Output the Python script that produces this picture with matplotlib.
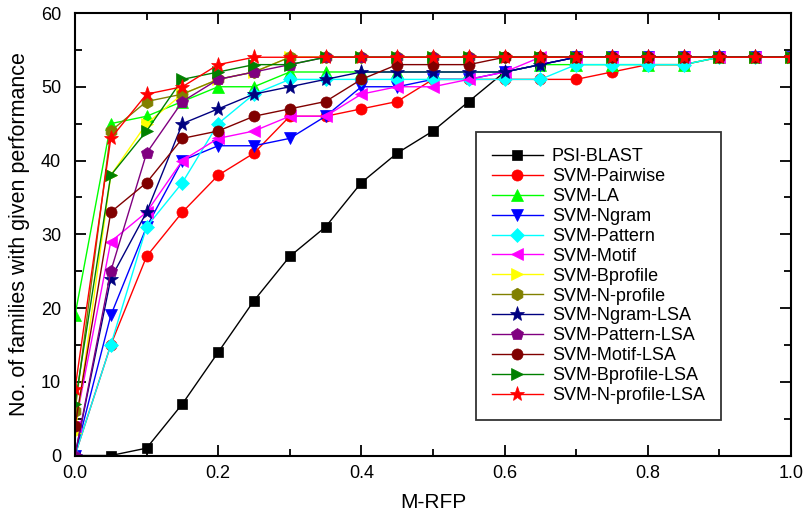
import numpy as np
import matplotlib.pyplot as plt
from matplotlib.ticker import MultipleLocator

plt.rcParams['font.family'] = ['Liberation Sans', 'DejaVu Sans']

# M-RFP thresholds
m_rfp = [0.0, 0.05, 0.1, 0.15, 0.2, 0.25, 0.3, 0.35, 0.4, 0.45, 0.5,
         0.55, 0.6, 0.65, 0.7, 0.75, 0.8, 0.85, 0.9, 0.95, 1.0]

# no. of families reaching each M-RFP
psi_blast = [0, 0, 1, 7, 14, 21, 27, 31, 37, 41, 44, 48, 52, 53, 54, 54, 54, 54, 54, 54, 54]
svm_pairwise = [0, 15, 27, 33, 38, 41, 46, 46, 47, 48, 51, 51, 51, 51, 51, 52, 53, 53, 54, 54, 54]
svm_la = [19, 45, 46, 48, 50, 50, 52, 52, 52, 52, 52, 52, 52, 53, 53, 53, 53, 53, 54, 54, 54]
svm_ngram = [0, 19, 31, 40, 42, 42, 43, 46, 50, 50, 51, 51, 52, 53, 54, 54, 54, 54, 54, 54, 54]
svm_pattern = [0, 15, 31, 37, 45, 49, 51, 51, 51, 51, 51, 51, 51, 51, 53, 53, 53, 53, 54, 54, 54]
svm_motif = [4, 29, 33, 40, 43, 44, 46, 46, 49, 50, 50, 51, 52, 54, 54, 54, 54, 54, 54, 54, 54]
svm_bprofile = [3, 38, 45, 49, 51, 52, 54, 54, 54, 54, 54, 54, 54, 54, 54, 54, 54, 54, 54, 54, 54]
svm_nprofile = [6, 44, 48, 49, 51, 52, 54, 54, 54, 54, 54, 54, 54, 54, 54, 54, 54, 54, 54, 54, 54]
svm_ngram_lsa = [0, 24, 33, 45, 47, 49, 50, 51, 52, 52, 52, 52, 52, 53, 54, 54, 54, 54, 54, 54, 54]
svm_pattern_lsa = [0, 25, 41, 48, 51, 52, 53, 54, 54, 54, 54, 54, 54, 54, 54, 54, 54, 54, 54, 54, 54]
svm_motif_lsa = [4, 33, 37, 43, 44, 46, 47, 48, 51, 53, 53, 53, 54, 54, 54, 54, 54, 54, 54, 54, 54]
svm_bprofile_lsa = [7, 38, 44, 51, 52, 53, 53, 54, 54, 54, 54, 54, 54, 54, 54, 54, 54, 54, 54, 54, 54]
svm_nprofile_lsa = [9, 43, 49, 50, 53, 54, 54, 54, 54, 54, 54, 54, 54, 54, 54, 54, 54, 54, 54, 54, 54]

names = ["PSI-BLAST", "SVM-Pairwise", "SVM-LA", "SVM-Ngram", "SVM-Pattern",
         "SVM-Motif", "SVM-Bprofile", "SVM-N-profile", "SVM-Ngram-LSA",
         "SVM-Pattern-LSA", "SVM-Motif-LSA", "SVM-Bprofile-LSA", "SVM-N-profile-LSA"]
series = [psi_blast, svm_pairwise, svm_la, svm_ngram, svm_pattern, svm_motif,
          svm_bprofile, svm_nprofile, svm_ngram_lsa, svm_pattern_lsa,
          svm_motif_lsa, svm_bprofile_lsa, svm_nprofile_lsa]

# (color, marker, markersize)
styles = [("#000000", "s", 7), ("#FF0000", "o", 8), ("#00FF00", "^", 9),
          ("#0000FF", "v", 9), ("#00FFFF", "D", 7), ("#FF00FF", "<", 9),
          ("#FFFF00", ">", 9), ("#808000", "h", 9), ("#000080", "*", 11),
          ("#800080", "p", 9), ("#800000", "o", 8), ("#008000", ">", 9),
          ("#FF0000", "*", 11)]

fig = plt.figure(figsize=(8.09, 5.2), dpi=100)
ax = fig.add_axes([0.0927, 0.124, 0.885, 0.851])

for name, vals, (col, mk, ms) in zip(names, series, styles):
    ax.plot(m_rfp, vals, color=col, marker=mk, markersize=ms, linewidth=1.0,
            markeredgewidth=0.5, markeredgecolor=col, label=name)

ax.set_xlim(0, 1.0)
ax.set_ylim(0, 60)
ax.xaxis.set_major_locator(MultipleLocator(0.2))
ax.xaxis.set_minor_locator(MultipleLocator(0.1))
ax.yaxis.set_major_locator(MultipleLocator(10))
ax.yaxis.set_minor_locator(MultipleLocator(5))
ax.tick_params(which='both', direction='in', top=True, right=True, width=1.3, labelsize=13)
ax.tick_params(which='major', length=8)
ax.tick_params(which='minor', length=5)
ax.tick_params(axis='x', pad=7)
ax.tick_params(axis='y', pad=10)
ax.xaxis.set_major_formatter(plt.FuncFormatter(lambda v, p: f"{v:.1f}"))
for s in ax.spines.values():
    s.set_linewidth(1.5)
    s.set_zorder(5)

ax.set_xlabel("M-RFP", fontsize=15, labelpad=8)
ax.set_ylabel("No. of families with given performance", fontsize=15.5, labelpad=8)

leg = ax.legend(loc='upper left', bbox_to_anchor=(0.56, 0.731), fontsize=13,
                frameon=True, fancybox=False, handlelength=2.8, labelspacing=0.16,
                borderpad=0.9, handletextpad=0.5, borderaxespad=0)
leg.get_frame().set_edgecolor('#000000')
leg.get_frame().set_linewidth(1.3)

fig.savefig("out.png", dpi=100)
